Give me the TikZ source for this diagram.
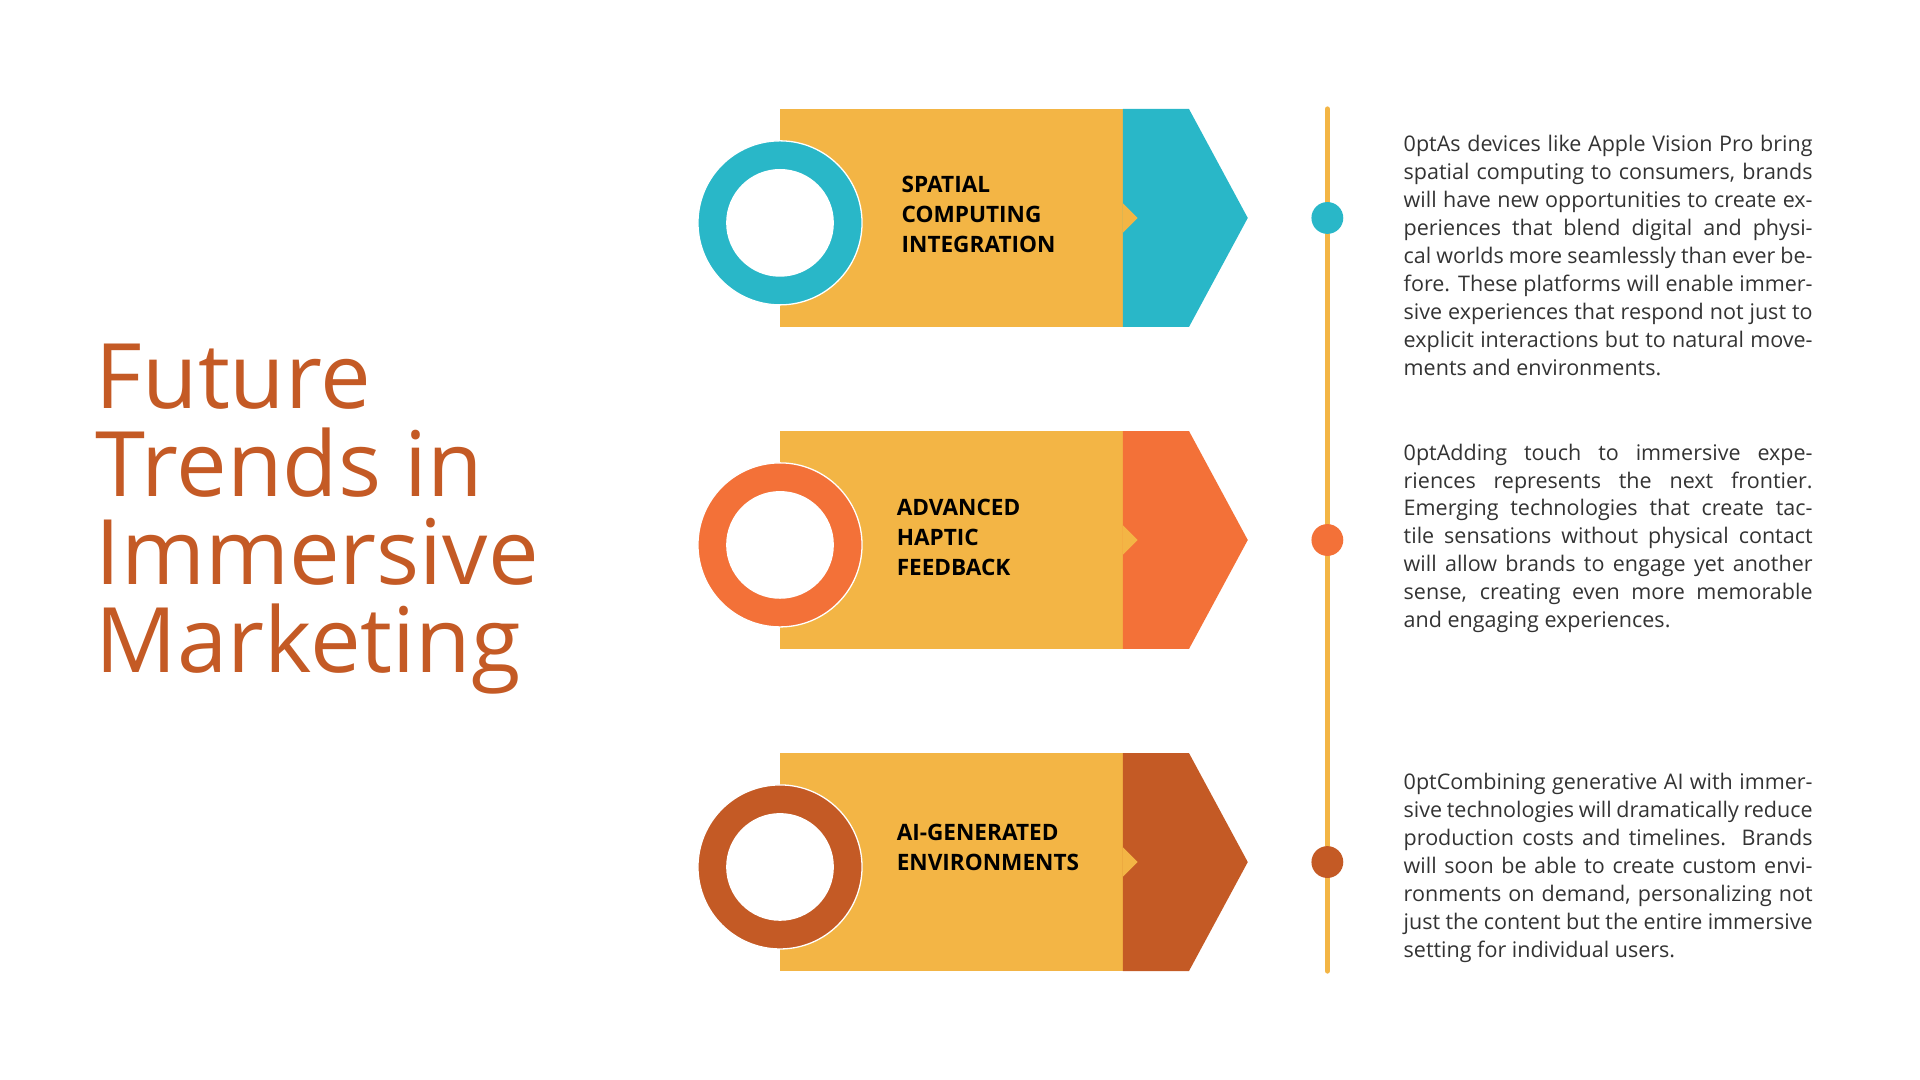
\documentclass[tikz,border=0pt]{standalone}
\usepackage{fontspec}
\setmainfont{Open Sans}
\usetikzlibrary{positioning}
\definecolor{band}{HTML}{F3B545}
\definecolor{teal}{HTML}{29B7C8}
\definecolor{flame}{HTML}{F37138}
\definecolor{rust}{HTML}{C45A25}
\tikzset{x=0.02cm, y=-0.02cm, % one unit is one pixel of the layout
every label/.style={font=\bfseries\fontsize{10.5}{14}\selectfont, align=left, anchor=west, inner sep=0pt},
bodytext/.style={font=\fontsize{10}{13}\selectfont\hyphenpenalty=10000\exhyphenpenalty=10000, text width=6.68cm, align=justify, anchor=north west, inner sep=0pt, text=black!80},
dot/.style={circle, inner sep=0pt, minimum size=0.52cm}}
\newcommand{\trendrow}[6]{% top y, colour, label x, label y, label, name
  \fill[band] (637,#1) rectangle (917,#1+178);
  \fill[#2] (917,#1) -- (971,#1) -- (1019,#1+89) -- (971,#1+178) -- (917,#1+178) -- cycle;
  \fill[band] (917,#1+77) -- (929,#1+89) -- (917,#1+101) -- cycle;
  \draw[white, fill=#2, line width=0.6pt] (637,#1+93) circle[radius=1.34cm];
  \fill[white] (637,#1+93) circle[radius=0.88cm];
  \node[every label] (#6) at (#3,#4) {#5};
  \node[dot, fill=#2] (#6dot) at (1084,#1+89) {};
}
\begin{document}
\begin{tikzpicture}
\useasboundingbox (0,0) rectangle (1568,882);
\node[anchor=west, inner sep=0pt, text=rust, font=\fontsize{42}{41}\selectfont, align=left] (title) at (78,424)
  {Future\\Trends in\\Immersive\\Marketing};
\coordinate (linetop) at (1084,89);
\coordinate (linebot) at (1084,793);
\draw[band, line width=2.4pt, line cap=round] (linetop) -- (linebot);
\trendrow{89}{teal}{736}{175}{SPATIAL\\COMPUTING\\INTEGRATION}{spatial}
\trendrow{352}{flame}{732}{439}{ADVANCED\\HAPTIC\\FEEDBACK}{haptic}
\trendrow{615}{rust}{732}{692}{AI-GENERATED\\ENVIRONMENTS}{aigen}
\node[bodytext] (spatialtext) at (1146,110) {As devices like Apple Vision Pro bring spatial computing to consumers, brands will have new opportunities to create experiences that blend digital and physical worlds more seamlessly than ever before. These platforms will enable immersive experiences that respond not just to explicit interactions but to natural movements and environments.};
\node[bodytext] (haptictext) at (1146,362) {Adding touch to immersive experiences represents the next frontier. Emerging technologies that create tactile sensations without physical contact will allow brands to engage yet another sense, creating even more memorable and engaging experiences.};
\node[bodytext] (aigentext) at (1146,631) {Combining generative AI with immersive technologies will dramatically reduce production costs and timelines. Brands will soon be able to create custom environments on demand, personalizing not just the content but the entire immersive setting for individual users.};
\end{tikzpicture}
\end{document}
